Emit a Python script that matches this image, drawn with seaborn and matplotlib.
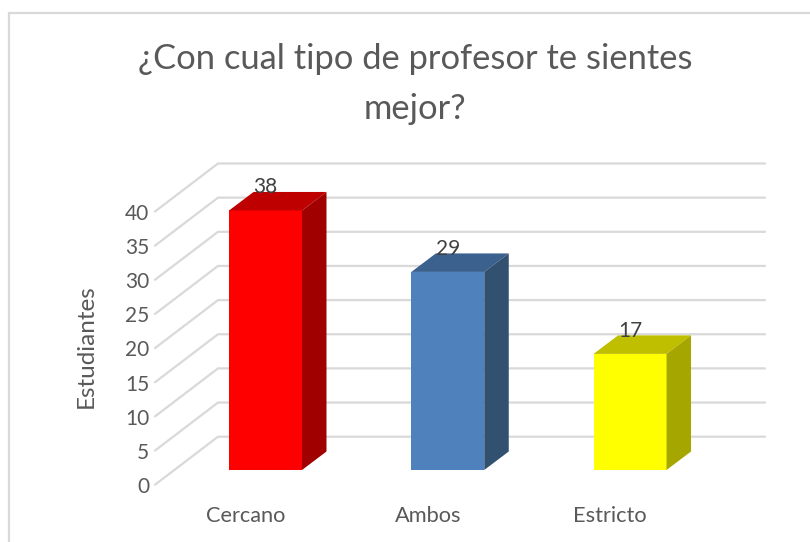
import matplotlib
matplotlib.use("Agg")
import matplotlib.pyplot as plt
from matplotlib.patches import Polygon
from matplotlib.lines import Line2D
from matplotlib.transforms import ScaledTranslation
import seaborn as sns
import pandas as pd

categories = ["Cercano", "Ambos", "Estricto"]
estudiantes = [38, 29, 17]
front_colors = ["#FF0000", "#4F81BD", "#FFFF00"]
top_colors = ["#BF0000", "#3B618E", "#BFBF00"]
side_colors = ["#A00000", "#32506F", "#A6A600"]
y_ticks = [0, 5, 10, 15, 20, 25, 30, 35, 40]
title_text = "¿Con cual tipo de profesor te sientes\nmejor?"

W, H = 810, 542
sns.set_theme(style="white")
plt.rcParams["font.family"] = ["Lato", "DejaVu Sans"]
fig = plt.figure(figsize=(W / 100, H / 100), dpi=100, facecolor="white")

# pixel layout
left, right, bottom, top = 174.4, 721.2, 470.0, 196.8
ax = fig.add_axes([left / W, 1 - bottom / H, (right - left) / W, (bottom - top) / H])
ax.set_facecolor("none")
df = pd.DataFrame({"tipo": categories, "n": estudiantes})
sns.barplot(data=df, x="tipo", y="n", hue="tipo", palette=front_colors, saturation=1,
            width=0.4, dodge=False, legend=False, ax=ax, zorder=3, linewidth=0)
ax.set_xlim(-0.5, 2.5)
ax.set_ylim(0, 40)

px_x = (right - left) / 3
px_y = (bottom - top) / 40
dx, dy = 24.5 / px_x, 18.5 / px_y          # bar depth
wall_x0 = (218 - left) / px_x - 0.5
wall_x1 = (765 - left) / px_x - 0.5
wall_dy = 33.3 / px_y
tip_x = (155 - left) / px_x - 0.5
tip_dy = -14.7 / px_y

grid = "#D9D9D9"
for t in y_ticks:
    ax.plot([tip_x, wall_x0, wall_x1], [t + tip_dy, t + wall_dy, t + wall_dy],
            color=grid, lw=1.6, clip_on=False, zorder=1, solid_joinstyle="miter")

hw = 0.2
for i, v in enumerate(estudiantes):
    ax.add_patch(Polygon([(i - hw, v), (i + hw, v), (i + hw + dx, v + dy), (i - hw + dx, v + dy)],
                         closed=True, fc=top_colors[i], ec="none", clip_on=False, zorder=3))
    ax.add_patch(Polygon([(i + hw, 0), (i + hw + dx, dy), (i + hw + dx, v + dy), (i + hw, v)],
                         closed=True, fc=side_colors[i], ec="none", clip_on=False, zorder=3))
    ax.text(i, v + 3.4, str(v), ha="center", va="center", fontsize=15, color="#404040",
            clip_on=False, zorder=5)

sns.despine(ax=ax, left=True, bottom=True, top=True, right=True)
ax.set_yticks(y_ticks)
ax.set_xticks(range(3))
ax.set_xticklabels(categories)
ax.tick_params(axis="y", length=0, pad=18, labelsize=15, labelcolor="#595959")
ax.tick_params(axis="x", length=0, pad=26, labelsize=15.7, labelcolor="#595959")
ytrans = ScaledTranslation(0, -15 / 100, fig.dpi_scale_trans)
for lab in ax.get_yticklabels():
    lab.set_transform(lab.get_transform() + ytrans)
xtrans = ScaledTranslation(-20 / 100, 0, fig.dpi_scale_trans)
for lab in ax.get_xticklabels():
    lab.set_transform(lab.get_transform() + xtrans)
ax.set_xlabel("")
ax.set_ylabel("")
fig.text(86 / W, 1 - 346 / H, "Estudiantes", rotation=90, ha="center", va="center",
         fontsize=17.5, color="#595959")
fig.text(415 / W, 1 - 84 / H, title_text, ha="center", va="center", fontsize=24.8,
         color="#595959", linespacing=1.7)

# chart frame: top and left edges only are visible in the crop
fx = 9 / W
fy = 1 - 13 / H
fig.add_artist(Line2D([fx, fx, 1], [0, fy, fy], transform=fig.transFigure,
                      color="#D9D9D9", lw=1.6, solid_joinstyle="miter"))
fig.savefig("out.png", dpi=100)
